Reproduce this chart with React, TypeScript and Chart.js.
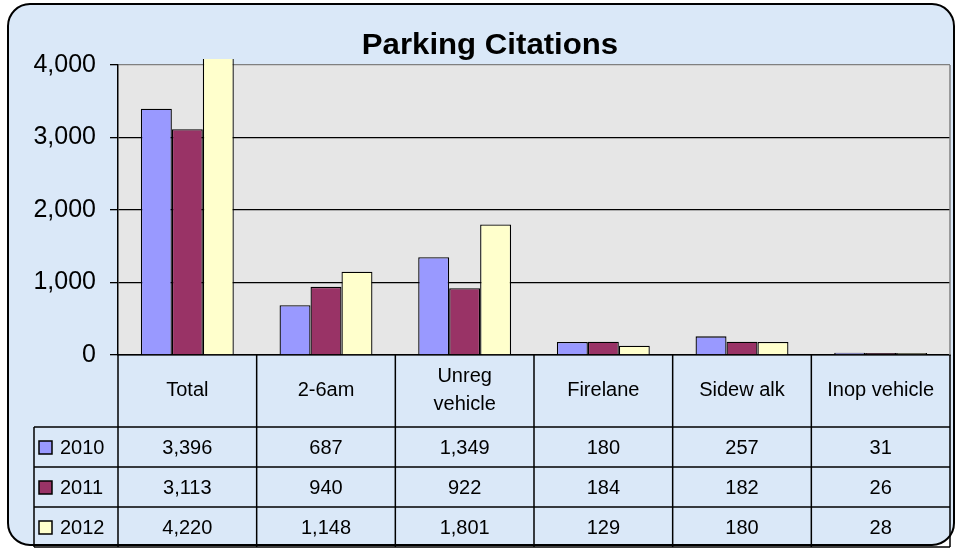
import React, { useEffect, useRef } from "react";
import { Chart, registerables } from "chart.js";

Chart.register(...registerables);

// ---- data ----
const categories: (string | string[])[] = [
  "Total",
  "2-6am",
  ["Unreg", "vehicle"],
  "Firelane",
  "Sidew alk",
  "Inop vehicle",
];
const seriesNames = ["2010", "2011", "2012"];
const values2010 = [3396, 687, 1349, 180, 257, 31];
const values2011 = [3113, 940, 922, 184, 182, 26];
const values2012 = [4220, 1148, 1801, 129, 180, 28];
const seriesColors = ["#9999FF", "#993366", "#FFFFCC"];
const yMax = 4000;
const yStep = 1000;
const titleText = "Parking Citations";

const FONT = '"Liberation Sans", Arial, Helvetica, sans-serif';

function roundRectPath(ctx: CanvasRenderingContext2D, x: number, y: number, w: number, h: number, r: number) {
  ctx.beginPath();
  ctx.moveTo(x + r, y);
  ctx.lineTo(x + w - r, y);
  ctx.arcTo(x + w, y, x + w, y + r, r);
  ctx.lineTo(x + w, y + h - r);
  ctx.arcTo(x + w, y + h, x + w - r, y + h, r);
  ctx.lineTo(x + r, y + h);
  ctx.arcTo(x, y + h, x, y + h - r, r);
  ctx.lineTo(x, y + r);
  ctx.arcTo(x, y, x + r, y, r);
  ctx.closePath();
}

function stretchedText(
  ctx: CanvasRenderingContext2D,
  text: string,
  x: number,
  y: number,
  sx: number,
  align: CanvasTextAlign
) {
  ctx.save();
  ctx.translate(x, y);
  ctx.scale(sx, 1);
  ctx.textAlign = align;
  ctx.fillText(text, 0, 0);
  ctx.restore();
}

const fmt = (v: number) => v.toLocaleString("en-US");

const decorPlugin = {
  id: "decor",
  beforeDraw(chart: any) {
    const ctx: CanvasRenderingContext2D = chart.ctx;
    const { left, top, right, bottom } = chart.chartArea;
    ctx.save();
    ctx.fillStyle = "#ffffff";
    ctx.fillRect(0, 0, chart.width, chart.height);
    roundRectPath(ctx, 8, 4, 946, 541, 22);
    ctx.fillStyle = "#DAE8F8";
    ctx.fill();
    ctx.lineWidth = 2;
    ctx.strokeStyle = "#000000";
    ctx.stroke();
    ctx.fillStyle = "#E6E6E6";
    ctx.fillRect(left, top, right - left, bottom - top);
    ctx.restore();
  },
  afterDraw(chart: any) {
    const ctx: CanvasRenderingContext2D = chart.ctx;
    const { left, top, right, bottom } = chart.chartArea;
    ctx.save();

    // plot area right border
    ctx.strokeStyle = "#808080";
    ctx.lineWidth = 1.5;
    ctx.beginPath();
    ctx.moveTo(right, top);
    ctx.lineTo(right, bottom);
    ctx.stroke();

    // title
    ctx.fillStyle = "#000";
    ctx.font = `bold 29px ${FONT}`;
    ctx.textBaseline = "alphabetic";
    stretchedText(ctx, titleText, 490, 54, 1.075, "center");

    // data table
    const n = categories.length;
    const colW = (right - left) / n;
    const headerBottom = bottom + 72;
    const rowH = 40;
    const tableBottom = headerBottom + rowH * seriesNames.length;
    const legendLeft = 34;

    ctx.strokeStyle = "#000";
    ctx.lineWidth = 1.5;
    ctx.beginPath();
    for (let i = 0; i <= n; i++) {
      const x = left + i * colW;
      ctx.moveTo(x, bottom);
      ctx.lineTo(x, tableBottom);
    }
    ctx.moveTo(legendLeft, headerBottom);
    ctx.lineTo(legendLeft, tableBottom);
    for (let r = 0; r <= seriesNames.length; r++) {
      const y = headerBottom + r * rowH;
      ctx.moveTo(legendLeft, y);
      ctx.lineTo(right, y);
    }
    ctx.stroke();

    ctx.fillStyle = "#000";
    ctx.font = `20px ${FONT}`;
    ctx.textBaseline = "middle";
    ctx.textAlign = "center";
    categories.forEach((c, i) => {
      const cx = left + (i + 0.5) * colW;
      const cy = bottom + 35;
      if (Array.isArray(c)) {
        c.forEach((line, k) => {
          ctx.fillText(line, cx, cy + (k - (c.length - 1) / 2) * 28);
        });
      } else {
        ctx.fillText(c, cx, cy);
      }
    });

    const allSeries = [values2010, values2011, values2012];
    allSeries.forEach((vals, r) => {
      const cy = headerBottom + r * rowH + rowH / 2 + 1;
      ctx.textAlign = "center";
      ctx.fillStyle = "#000";
      vals.forEach((v, i) => {
        ctx.fillText(fmt(v), left + (i + 0.5) * colW, cy);
      });
      // legend key
      ctx.fillStyle = seriesColors[r];
      ctx.fillRect(39, cy - 7, 13, 13);
      ctx.lineWidth = 1.5;
      ctx.strokeStyle = "#000";
      ctx.strokeRect(39, cy - 7, 13, 13);
      ctx.fillStyle = "#000";
      ctx.textAlign = "left";
      ctx.fillText(seriesNames[r], 60, cy);
    });

    ctx.restore();
  },
};

export default function App() {
  const ref = useRef<HTMLCanvasElement | null>(null);
  useEffect(() => {
    if (!ref.current) return;
    const allSeries = [values2010, values2011, values2012];
    const chart = new Chart(ref.current, {
      type: "bar",
      data: {
        labels: categories as any,
        datasets: allSeries.map((vals, i) => ({
          label: seriesNames[i],
          data: vals,
          backgroundColor: seriesColors[i],
          borderColor: "#000000",
          borderWidth: 1.3,
          categoryPercentage: 0.67,
          barPercentage: 1.0,
          clip: { left: 0, top: 6, right: 0, bottom: 0 } as any,
        })),
      },
      options: {
        responsive: false,
        animation: false,
        devicePixelRatio: 1,
        layout: { padding: { left: 0, top: 65, right: 8, bottom: 0 } },
        plugins: {
          legend: { display: false },
          title: { display: false },
          tooltip: { enabled: false },
        },
        scales: {
          x: {
            ticks: { display: false },
            grid: { display: false, drawTicks: false },
            border: { display: true, color: "#000000", width: 1.5 },
            afterFit(scale: any) {
              scale.height = 193;
            },
          },
          y: {
            min: 0,
            max: yMax,
            ticks: {
              stepSize: yStep,
              color: "#000000",
              padding: 14,
              font: { family: FONT, size: 25 },
              callback: (v: any) => fmt(Number(v)),
            },
            grid: {
              color: (c: any) => (c.tick && c.tick.value === yMax ? "#808080" : "#000000"),
              lineWidth: 1.3,
              tickLength: 8,
              tickColor: "#000000",
            },
            border: { display: true, color: "#000000", width: 1.5 },
            afterFit(scale: any) {
              scale.width = 118;
            },
          },
        },
      },
      plugins: [decorPlugin],
    });
    return () => chart.destroy();
  }, []);
  return (
    <div style={{ position: "absolute", left: 0, top: 0, width: 958, height: 548 }}>
      <canvas ref={ref} width={958} height={548} style={{ display: "block" }} />
    </div>
  );
}
